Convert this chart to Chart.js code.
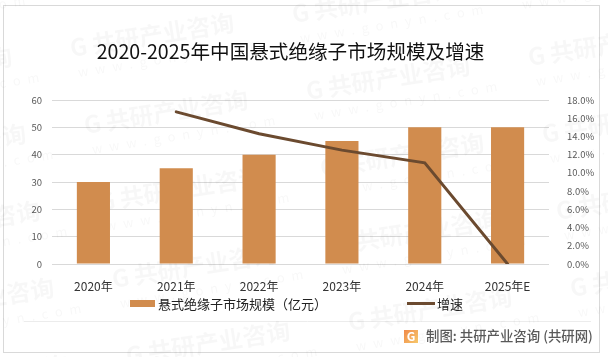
<!DOCTYPE html>
<html>
<head>
<meta charset="utf-8">
<style>
  html, body { margin: 0; padding: 0; background: #fff; }
  #wrap { width: 608px; height: 357px; }
</style>
<script src="https://cdn.jsdelivr.net/npm/chart.js@4"></script>
</head>
<body>
<div id="wrap"><canvas id="myChart" width="608" height="357"></canvas></div>
<script>
const FONT = '"Noto Sans CJK SC", "Noto Sans", sans-serif';

// datos
const categories = ['2020年', '2021年', '2022年', '2023年', '2024年', '2025年E'];
const scaleValues = [30, 35, 40, 45, 50, 50];
const growthValues = [null, 16.7, 14.3, 12.5, 11.1, 0];
const barLabel = '悬式绝缘子市场规模（亿元）';
const lineLabel = '增速';
const titleText = '2020-2025年中国悬式绝缘子市场规模及增速';
const sourceText = '制图: 共研产业咨询 (共研网)';
const barColor = '#d18c4e';
const lineColor = '#6b4a2f';

// marco, título, leyenda, pie, logo y marca de agua
const framePlugin = {
    id: 'frame',
    beforeDraw(chart) {
        const c = chart.ctx;
        c.save();
        c.fillStyle = '#fff';
        c.fillRect(0, 0, 608, 357);
        c.strokeStyle = '#d9d9d9';
        c.lineWidth = 1;
        c.strokeRect(3.5, 5.5, 596, 347);
        c.strokeStyle = '#ececec';
        c.beginPath();
        c.moveTo(24, 321.5);
        c.lineTo(591, 321.5);
        c.stroke();
        c.restore();
    },
    // la marca de agua queda debajo de las barras
    beforeDatasetsDraw(chart) {
        const c = chart.ctx;
        for (let i = -1; i < 3; i++) {
            for (let j = -1; j < 5; j++) {
                const x = 70 + i * 222 + j * 14;
                const y = 48 - i * 34 + j * 77;
                c.save();
                c.translate(x, y);
                c.rotate(-9 * Math.PI / 180);
                c.fillStyle = 'rgba(0,0,0,0.03)';
                c.textAlign = 'left';
                c.textBaseline = 'middle';
                c.font = 'bold 24px ' + FONT;
                c.fillText('G', 0, 0);
                c.fillText('共研产业咨询', 22, 0);
                c.font = '13px ' + FONT;
                c.letterSpacing = '7px';
                c.fillText('www.gonyn.com', 4, 25);
                c.restore();
            }
        }
    },
    afterDraw(chart) {
        const c = chart.ctx;
        c.save();
        c.textBaseline = 'middle';
        // título
        c.fillStyle = '#111';
        c.font = '19.6px ' + FONT;
        c.textAlign = 'center';
        c.fillText(titleText, 290.5, 52);
        // leyenda
        c.fillStyle = barColor;
        c.fillRect(130, 300, 25, 7);
        c.strokeStyle = lineColor;
        c.lineWidth = 3;
        c.beginPath();
        c.moveTo(407, 303.5);
        c.lineTo(435, 303.5);
        c.stroke();
        c.fillStyle = '#222';
        c.font = '13px ' + FONT;
        c.textAlign = 'left';
        c.fillText(barLabel, 158, 304);
        c.fillText(lineLabel, 437, 304);
        // logo
        const g = c.createLinearGradient(404, 330, 418, 342);
        g.addColorStop(0, '#f08a4a');
        g.addColorStop(1, '#f7c66a');
        c.fillStyle = g;
        c.fillRect(404, 330, 14, 13);
        c.fillStyle = '#fff';
        c.font = 'bold 12px ' + FONT;
        c.textAlign = 'center';
        c.fillText('G', 411, 336);
        // fuente
        c.fillStyle = '#595959';
        c.font = '500 13.4px ' + FONT;
        c.textAlign = 'left';
        c.fillText(sourceText, 426, 335.5);
        c.restore();
    }
};

new Chart(document.getElementById('myChart').getContext('2d'), {
    data: {
        labels: categories,
        datasets: [
            {
                type: 'line',
                label: lineLabel,
                data: growthValues,
                yAxisID: 'y1',
                borderColor: lineColor,
                backgroundColor: lineColor,
                borderWidth: 3,
                borderCapStyle: 'round',
                pointRadius: 0,
                tension: 0,
                order: 1
            },
            {
                type: 'bar',
                label: barLabel,
                data: scaleValues,
                yAxisID: 'y',
                backgroundColor: barColor,
                barPercentage: 0.4,
                categoryPercentage: 1,
                order: 2
            }
        ]
    },
    options: {
        responsive: false,
        animation: false,
        layout: { padding: { top: 100, left: 0, right: 0, bottom: 63 } },
        scales: {
            x: {
                grid: { display: false },
                border: { display: false },
                ticks: { color: '#333', font: { family: FONT, size: 12 }, padding: 7, maxRotation: 0 },
                afterFit(s) { s.height = 30; }
            },
            y: {
                position: 'left',
                min: 0,
                max: 60,
                ticks: { stepSize: 10, color: '#595959', font: { family: FONT, size: 9.5 }, padding: 10 },
                grid: { color: '#d9d9d9', drawTicks: false },
                border: { display: false },
                afterFit(s) { s.width = 52; }
            },
            y1: {
                position: 'right',
                min: 0,
                max: 18,
                ticks: { stepSize: 2, autoSkip: false, color: '#595959', font: { family: FONT, size: 9.5 }, padding: 10, callback: v => v.toFixed(1) + '%' },
                grid: { display: false },
                border: { display: false },
                afterFit(s) { s.width = 59; }
            }
        },
        plugins: {
            legend: { display: false },
            tooltip: { enabled: false }
        }
    },
    plugins: [framePlugin]
});
</script>
</body>
</html>
